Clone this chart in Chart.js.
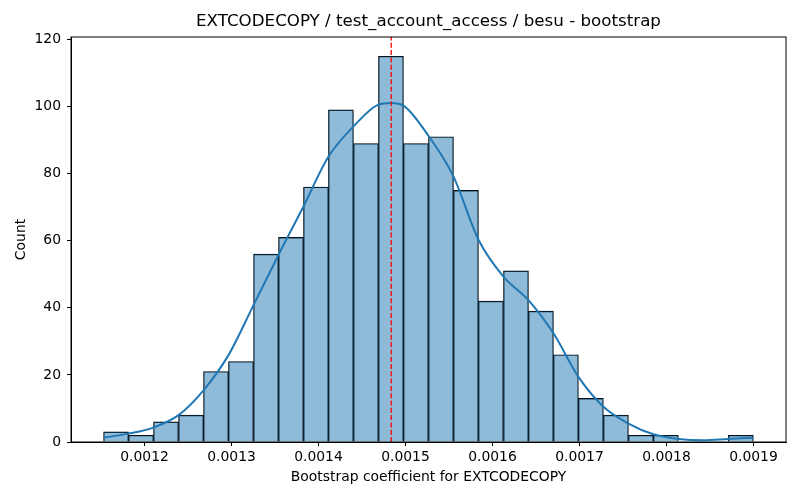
<!DOCTYPE html>
<html>
<head>
<meta charset="utf-8">
<script src="https://cdn.jsdelivr.net/npm/chart.js@4.4.1/dist/chart.umd.min.js"></script>
<style>
  html, body { margin: 0; padding: 0; background: #fff; }
  canvas { display: block; }
</style>
</head>
<body>
<canvas id="hist" width="800" height="500"></canvas>
<script>
// histogram bins (centres) and counts
const binCenters = [0.0011673, 0.0011960, 0.0012247, 0.0012535, 0.0012822, 0.0013109,
  0.0013397, 0.0013684, 0.0013971, 0.0014258, 0.0014546, 0.0014833, 0.0015120,
  0.0015408, 0.0015695, 0.0015982, 0.0016270, 0.0016557, 0.0016844, 0.0017131,
  0.0017419, 0.0017706, 0.0017993, 0.0018281, 0.0018568, 0.0018855];
const counts = [3, 2, 6, 8, 21, 24, 56, 61, 76, 99, 89, 115, 89, 91, 75, 42, 51, 39, 26, 13, 8, 2, 2, 0, 0, 2];

// kde curve
const kdeX = [0.0011529, 0.0011816, 0.0012103, 0.0012391, 0.0012678, 0.0012965,
  0.0013253, 0.0013540, 0.0013827, 0.0014115, 0.0014402, 0.0014689, 0.0014836,
  0.0014977, 0.0015264, 0.0015551, 0.0015839, 0.0016126, 0.0016413, 0.0016701,
  0.0016988, 0.0017275, 0.0017563, 0.0017850, 0.0018137, 0.0018425, 0.0018712, 0.0019000];
const kdeY = [1.3, 2.5, 4.3, 8.0, 15.4, 25.9, 40.8, 55.8, 70.2, 85.1, 94.1, 100.6, 101.1,
  100.3, 91.3, 79.2, 60.3, 49.3, 42.3, 32.4, 19.4, 10.5, 5.5, 2.3, 0.9, 0.5, 0.9, 1.3];

const meanValue = 0.0014836;

const xTicks = [0.0012, 0.0013, 0.0014, 0.0015, 0.0016, 0.0017, 0.0018, 0.0019];
const yTicks = [0, 20, 40, 60, 80, 100, 120];
const xRange = [0.0011155, 0.0019374];
const yRange = [0, 120.75];

const titleText = 'EXTCODECOPY / test_account_access / besu - bootstrap';
const xLabel = 'Bootstrap coefficient for EXTCODECOPY';
const yLabel = 'Count';

Chart.defaults.font.family = '"DejaVu Sans", sans-serif';
Chart.defaults.font.size = 13.9;
Chart.defaults.color = '#000';

// box round the plot + title centred over the axes
const frame = {
  id: 'frame',
  afterDraw(chart) {
    const { ctx, chartArea: a } = chart;
    ctx.save();
    ctx.strokeStyle = '#000';
    ctx.lineWidth = 1;
    ctx.strokeRect(a.left, a.top, a.right - a.left, a.bottom - a.top);
    ctx.font = '16.7px "DejaVu Sans", sans-serif';
    ctx.fillStyle = '#000';
    ctx.textAlign = 'center';
    ctx.textBaseline = 'middle';
    ctx.fillText(titleText, (a.left + a.right) / 2, 22);
    ctx.restore();
  }
};

new Chart(document.getElementById('hist'), {
  data: {
    datasets: [
      {
        type: 'bar',
        data: binCenters.map((x, i) => ({ x: x, y: counts[i] })),
        backgroundColor: 'rgba(31,119,180,0.5)',
        borderColor: '#000',
        borderWidth: 0.7,
        barPercentage: 1,
        categoryPercentage: 1,
        order: 3
      },
      {
        type: 'line',
        data: kdeX.map((x, i) => ({ x: x, y: kdeY[i] })),
        borderColor: '#1f77b4',
        borderWidth: 2,
        pointRadius: 0,
        cubicInterpolationMode: 'monotone',
        fill: false,
        order: 2
      },
      {
        type: 'line',
        data: [{ x: meanValue, y: yRange[0] }, { x: meanValue, y: yRange[1] }],
        borderColor: '#ff0000',
        borderWidth: 1.3,
        borderDash: [5, 2.3],
        pointRadius: 0,
        fill: false,
        order: 1
      }
    ]
  },
  options: {
    responsive: false,
    animation: false,
    devicePixelRatio: 1,
    layout: { padding: { top: 37, right: 14, left: 0, bottom: 0 } },
    plugins: { legend: { display: false }, tooltip: { enabled: false } },
    scales: {
      x: {
        type: 'linear',
        offset: false,
        min: xRange[0],
        max: xRange[1],
        afterBuildTicks: s => { s.ticks = xTicks.map(v => ({ value: v })); },
        afterFit: s => { s.height = 58; },
        grid: { offset: false, drawOnChartArea: false, drawTicks: true, tickLength: 4, tickColor: '#000' },
        border: { display: true, color: '#000', width: 1 },
        ticks: { padding: 3, maxRotation: 0, callback: v => v.toFixed(4) },
        title: { display: true, text: xLabel, padding: { top: 0, bottom: 14 } }
      },
      y: {
        type: 'linear',
        min: yRange[0],
        max: yRange[1],
        afterBuildTicks: s => { s.ticks = yTicks.map(v => ({ value: v })); },
        afterFit: s => { s.width = 71; },
        grid: { drawOnChartArea: false, drawTicks: true, tickLength: 4, tickColor: '#000' },
        border: { display: true, color: '#000', width: 1 },
        ticks: { padding: 6 },
        title: { display: true, text: yLabel, padding: { top: 13, bottom: 0 } }
      }
    }
  },
  plugins: [frame]
});
</script>
</body>
</html>
